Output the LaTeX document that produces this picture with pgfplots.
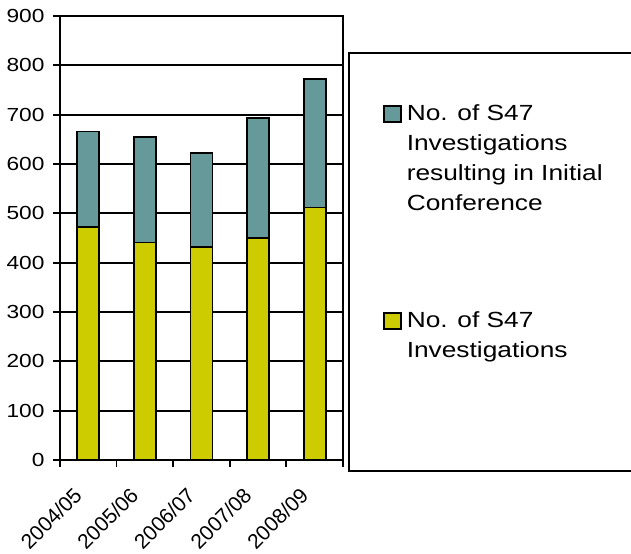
\documentclass[border=0pt]{standalone}
\usepackage{fontspec}
\setmainfont[FakeStretch=1.2]{Liberation Sans}
\newfontfamily\xlabfont{Liberation Sans}
\usepackage{pgfplots}
\pgfplotsset{compat=1.18}
\definecolor{tealbar}{HTML}{669999}
\definecolor{yelbar}{HTML}{CCCC00}
\begin{document}
\begin{tikzpicture}
\begin{axis}[
  scale only axis, width=283bp, height=444bp,
  ybar stacked, bar width=22bp,
  xmin=-0.5, xmax=4.5, ymin=0, ymax=900,
  ytick={0,100,...,900},
  xtick={-0.5,0.5,...,4.5},
  x tick label as interval,
  xticklabels={2004/05,2005/06,2006/07,2007/08,2008/09},
  xtick pos=bottom, ytick pos=left,
  tick align=outside,
  major tick length=7bp,
  tick style={black, line width=1.8bp},
  axis line style={black, line width=2bp},
  ymajorgrids, grid style={black, line width=1.8bp},
  /pgf/number format/assume math mode=true,
  yticklabel style={font=\fontsize{19}{23}\selectfont, xshift=-5bp},
  xticklabel style={font=\xlabfont\fontsize{21}{25}\selectfont, xshift=-8bp, rotate=45, anchor=east},
  xticklabel shift=22bp,
  reverse legend,
  legend style={draw=none, fill=none, at={(1.1413,0.7995)}, anchor=north west,
    inner sep=0pt, outer sep=0pt, row sep=100bp, column sep=5bp,
    font=\fontsize{22}{30}\selectfont,
    nodes={inner sep=0pt, align=left, anchor=north west}},
]
\addplot[fill=yelbar, draw=black, line width=1.8bp,
  legend image code/.code={\draw[fill=yelbar, draw=black, line width=1.8bp] (0bp,-1bp) rectangle (17bp,-17bp);}]
  coordinates {(0,473) (1,441) (2,431) (3,450) (4,512)};
\addlegendentry{No. of S47\\Investigations}
\addplot[fill=tealbar, draw=black, line width=1.8bp,
  legend image code/.code={\draw[fill=tealbar, draw=black, line width=1.8bp] (0bp,-1bp) rectangle (17bp,-17bp);}]
  coordinates {(0,193) (1,214) (2,192) (3,243) (4,261)};
\addlegendentry{No. of S47\\Investigations\\resulting in Initial\\Conference}
\end{axis}
\draw[line width=1.8bp] (current axis.south west) ++(289bp,-11bp) rectangle ++(400bp,418bp);
\pgfresetboundingbox
\path[use as bounding box] (current axis.south west) ++(-60bp,-94bp) rectangle ++(631bp,554bp);
\end{tikzpicture}
\end{document}
